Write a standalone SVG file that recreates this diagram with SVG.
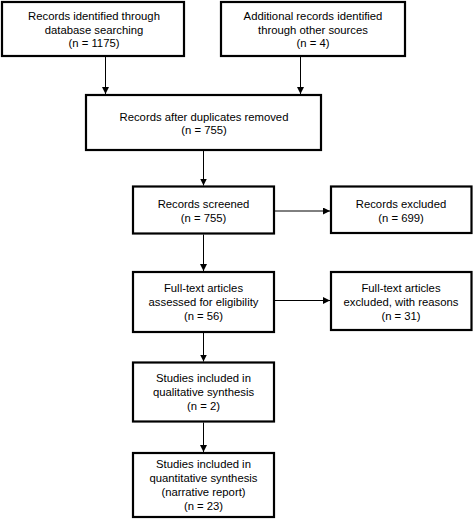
<svg xmlns="http://www.w3.org/2000/svg" width="473" height="521" viewBox="0 0 473 521">
<style>
.box{fill:#fff;stroke:#000;stroke-width:2.2}
.t{font-family:"Liberation Sans",Arial,sans-serif;font-size:11.3px;fill:#000;text-anchor:middle}
.c{stroke:#000;stroke-width:1;fill:none}
</style>
<defs>
<marker id="ah" markerUnits="userSpaceOnUse" markerWidth="8" markerHeight="8" refX="7" refY="3.5" orient="auto">
<path d="M0,0 L7,3.5 L0,7 z" fill="#000"/>
</marker>
</defs>
<rect width="473" height="521" fill="#fff"/>
<g id="connectors">
<line class="c" x1="105.5" y1="57" x2="105.5" y2="94" marker-end="url(#ah)"/>
<line class="c" x1="300.5" y1="57" x2="300.5" y2="94" marker-end="url(#ah)"/>
<line class="c" x1="203.5" y1="151" x2="203.5" y2="185.5" marker-end="url(#ah)"/>
<line class="c" x1="275" y1="211" x2="330" y2="211" marker-end="url(#ah)"/>
<line class="c" x1="203.5" y1="234.5" x2="203.5" y2="271" marker-end="url(#ah)"/>
<line class="c" x1="275" y1="300.5" x2="330" y2="300.5" marker-end="url(#ah)"/>
<line class="c" x1="203.5" y1="333" x2="203.5" y2="361.5" marker-end="url(#ah)"/>
<line class="c" x1="203.5" y1="422.5" x2="203.5" y2="452" marker-end="url(#ah)"/>
</g>
<g id="n1">
<rect class="box" x="2" y="2" width="182" height="54"/>
<text class="t" x="94" y="19.7">Records identified through</text>
<text class="t" x="94" y="33.5">database searching</text>
<text class="t" x="94" y="47.3">(n = 1175)</text>
</g>
<g id="n2">
<rect class="box" x="221" y="2" width="184" height="54"/>
<text class="t" x="313" y="19.7">Additional records identified</text>
<text class="t" x="313" y="33.5">through other sources</text>
<text class="t" x="313" y="47.3">(n = 4)</text>
</g>
<g id="n3">
<rect class="box" x="86" y="95" width="235" height="55"/>
<text class="t" x="204" y="120.7">Records after duplicates removed</text>
<text class="t" x="204" y="134.3">(n = 755)</text>
</g>
<g id="n4">
<rect class="box" x="133" y="186.5" width="141" height="47"/>
<text class="t" x="203.5" y="208.3">Records screened</text>
<text class="t" x="203.5" y="221.8">(n = 755)</text>
</g>
<g id="n5">
<rect class="box" x="331" y="186.5" width="140.5" height="46.5"/>
<text class="t" x="401" y="208.3">Records excluded</text>
<text class="t" x="401" y="221.8">(n = 699)</text>
</g>
<g id="n6">
<rect class="box" x="133" y="272" width="141" height="60"/>
<text class="t" x="203.5" y="292.3">Full-text articles</text>
<text class="t" x="203.5" y="306.3">assessed for eligibility</text>
<text class="t" x="203.5" y="320.3">(n = 56)</text>
</g>
<g id="n7">
<rect class="box" x="331" y="272" width="140.5" height="58"/>
<text class="t" x="401" y="291.5">Full-text articles</text>
<text class="t" x="401" y="305.5">excluded, with reasons</text>
<text class="t" x="401" y="319.5">(n = 31)</text>
</g>
<g id="n8">
<rect class="box" x="133" y="362.5" width="141" height="59"/>
<text class="t" x="203.5" y="382.2">Studies included in</text>
<text class="t" x="203.5" y="396">qualitative synthesis</text>
<text class="t" x="203.5" y="409.8">(n = 2)</text>
</g>
<g id="n9">
<rect class="box" x="133" y="453" width="141" height="64"/>
<text class="t" x="203.5" y="468.3">Studies included in</text>
<text class="t" x="203.5" y="482.1">quantitative synthesis</text>
<text class="t" x="203.5" y="495.9">(narrative report)</text>
<text class="t" x="203.5" y="509.7">(n = 23)</text>
</g>
</svg>
